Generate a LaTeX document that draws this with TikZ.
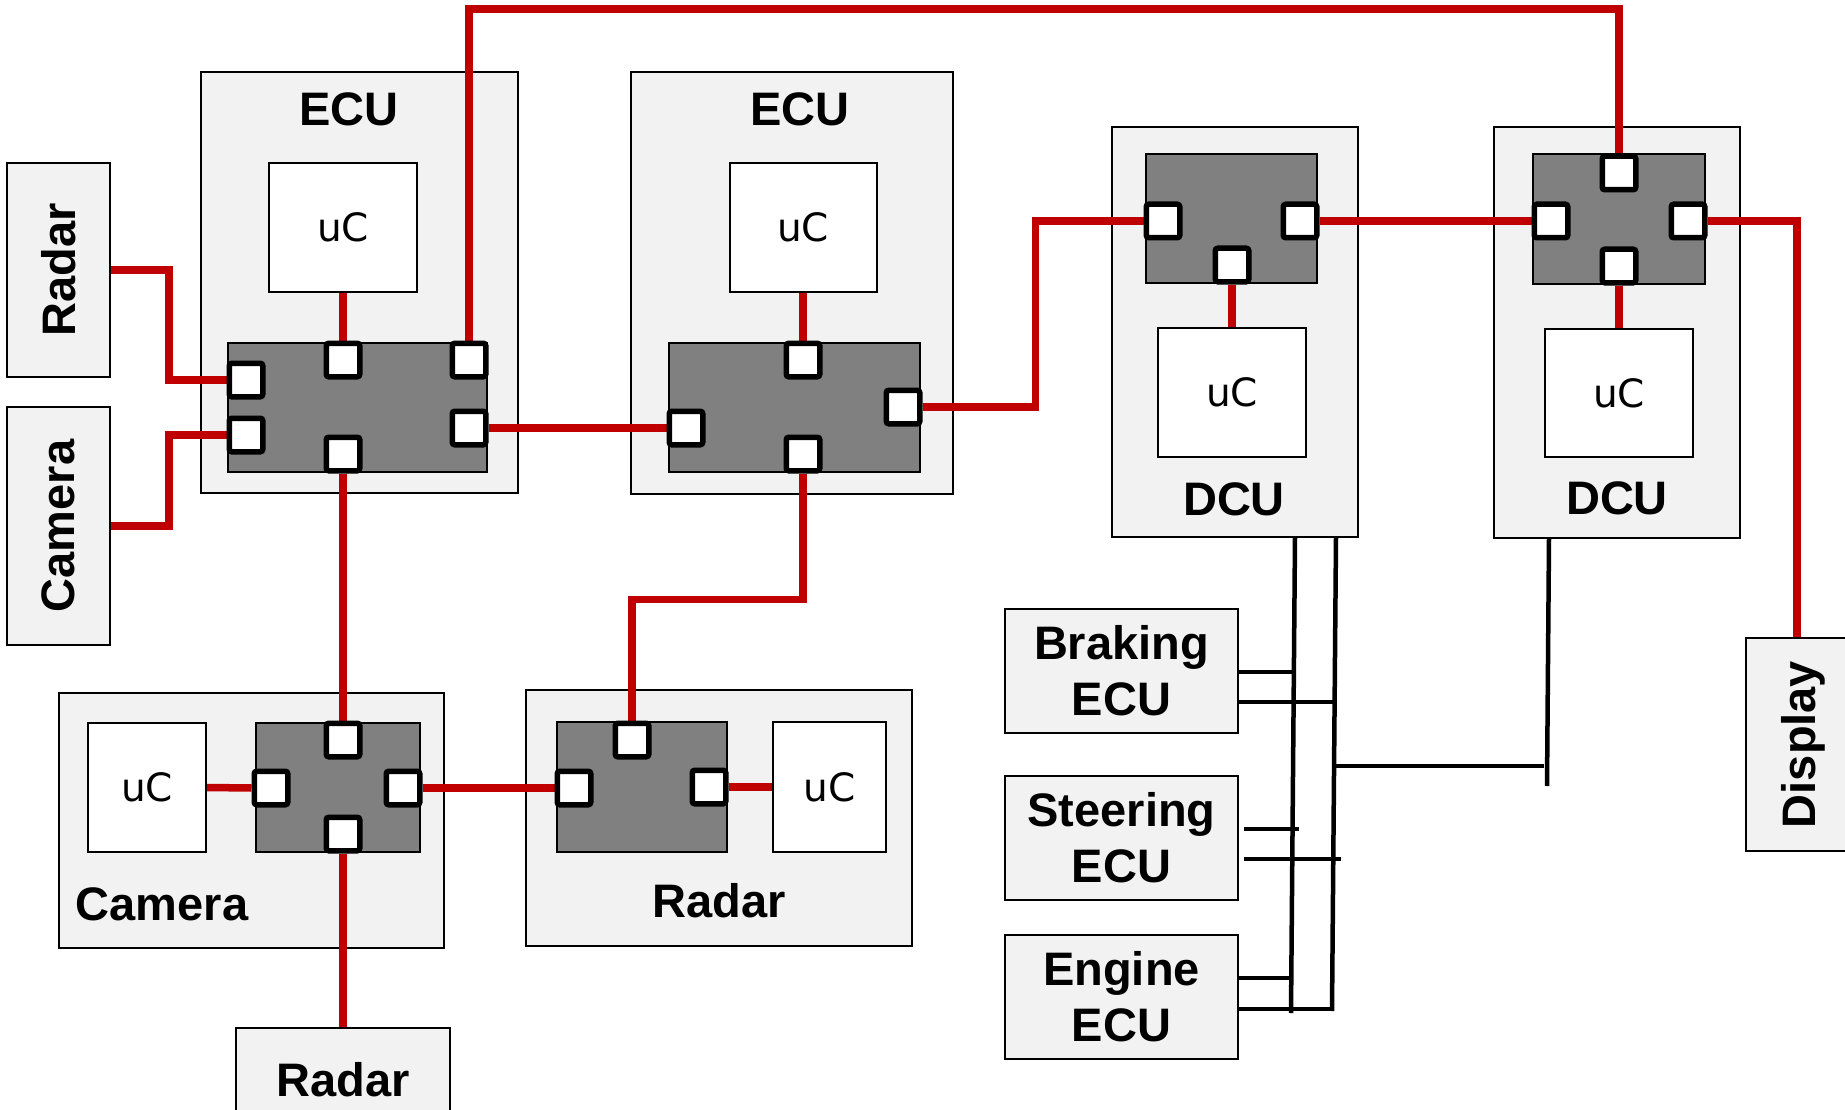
\documentclass[tikz,border=0pt]{standalone}
\usepackage{fontspec}
\setmainfont{Liberation Sans}
\newfontfamily\ucfont{DejaVu Sans}
\usetikzlibrary{positioning}
\definecolor{linkred}{RGB}{192,0,0}
\definecolor{unitgray}{RGB}{242,242,242}
\definecolor{switchgray}{RGB}{128,128,128}
\pgfdeclarelayer{front}
\pgfsetlayers{main,front}
\tikzset{
  unitbox/.style={draw=black, fill=unitgray, line width=2pt, rectangle, inner sep=0pt},
  switchbox/.style={draw=black, fill=switchgray, line width=2pt, rectangle, inner sep=0pt},
  ucbox/.style={draw=black, fill=white, line width=2pt, rectangle, inner sep=0pt, font=\ucfont\fontsize{39}{46}\selectfont},
  portsq/.style={draw=black, fill=white, line width=5.5pt, minimum size=33.5pt, inner sep=0pt, rounded corners=2.5pt},
  lbl/.style={font=\bfseries\fontsize{47}{56}\selectfont, inner sep=0pt, align=center},
  redlink/.style={draw=linkred, line width=7.5pt},
  buslink/.style={draw=black, line width=4.5pt},
}

\begin{document}
\begin{tikzpicture}[x=1pt, y=-1pt]
        \useasboundingbox (0,0) rectangle (1845,1110);
        \clip (0,0) rectangle (1845,1110);

        % Sensors on the left
        \node[unitbox, minimum width=103pt, minimum height=214pt] (radarL) at (58.5,270) {};
        \node[lbl, rotate=90] (radarLlbl) at (radarL) {Radar};
        \node[unitbox, minimum width=103pt, minimum height=238pt] (cameraL) at (58.5,526) {};
        \node[lbl, rotate=90] (cameraLlbl) at (cameraL) {Camera};

        % First ECU
        \node[unitbox, minimum width=317pt, minimum height=421pt] (ecuA) at (359.5,282.5) {};
        \node[lbl, anchor=base] (ecuAlbl) at (349,126) {ECU};
        \node[ucbox, minimum width=148pt, minimum height=129pt] (ecuAuc) at (343,227.5) {uC};
        \node[switchbox, minimum width=259pt, minimum height=129pt] (ecuAsw) at (357.5,407.5) {};

        % Second ECU
        \node[unitbox, minimum width=322pt, minimum height=422pt] (ecuB) at (792,283) {};
        \node[lbl, anchor=base] (ecuBlbl) at (800,126) {ECU};
        \node[ucbox, minimum width=147pt, minimum height=129pt] (ecuBuc) at (803,227.5) {uC};
        \node[switchbox, minimum width=251pt, minimum height=129pt] (ecuBsw) at (794.5,407.5) {};

        % First DCU
        \node[unitbox, minimum width=246pt, minimum height=410pt] (dcuA) at (1235,332) {};
        \node[lbl, anchor=base] (dcuAlbl) at (1234,515) {DCU};
        \node[switchbox, minimum width=171pt, minimum height=129pt] (dcuAsw) at (1231.5,218.5) {};
        \node[ucbox, minimum width=148pt, minimum height=129pt] (dcuAuc) at (1232,392.5) {uC};

        % Second DCU
        \node[unitbox, minimum width=246pt, minimum height=411pt] (dcuB) at (1617,332.5) {};
        \node[lbl, anchor=base] (dcuBlbl) at (1617,514) {DCU};
        \node[switchbox, minimum width=172pt, minimum height=130pt] (dcuBsw) at (1619,219) {};
        \node[ucbox, minimum width=148pt, minimum height=128pt] (dcuBuc) at (1619,393) {uC};

        % Display
        \node[unitbox, minimum width=114pt, minimum height=213pt] (disp) at (1803,744.5) {};
        \node[lbl, rotate=90] (displbl) at (disp) {Display};

        % Chassis ECUs
        \node[unitbox, minimum width=233pt, minimum height=124pt] (brk) at (1121.5,671) {};
        \node[lbl] (brklbl) at (brk) {Braking\\ECU};
        \node[unitbox, minimum width=233pt, minimum height=124pt] (steer) at (1121.5,838) {};
        \node[lbl] (steerlbl) at (steer) {Steering\\ECU};
        \node[unitbox, minimum width=233pt, minimum height=124pt] (eng) at (1121.5,997) {};
        \node[lbl] (englbl) at (eng) {Engine\\ECU};

        % Camera unit
        \node[unitbox, minimum width=385pt, minimum height=255pt] (camU) at (251.5,820.5) {};
        \node[lbl, anchor=base] (camUlbl) at (162,920) {Camera};
        \node[ucbox, minimum width=118pt, minimum height=129pt] (camuc) at (147,787.5) {uC};
        \node[switchbox, minimum width=164pt, minimum height=129pt] (camsw) at (338,787.5) {};

        % Radar unit
        \node[unitbox, minimum width=386pt, minimum height=256pt] (radU) at (719,818) {};
        \node[lbl, anchor=base] (radUlbl) at (719,917) {Radar};
        \node[switchbox, minimum width=170pt, minimum height=130pt] (radsw) at (642,787) {};
        \node[ucbox, minimum width=113pt, minimum height=130pt] (raduc) at (829.5,787) {uC};

        % Radar at the bottom
        \node[unitbox, minimum width=214pt, minimum height=104pt] (radarB) at (343,1080) {};
        \node[lbl] (radarBlbl) at (radarB) {Radar};

        % Switch ports
        \begin{pgfonlayer}{front}
            \node[portsq] (ecuAp1) at (246,380) {};
            \node[portsq] (ecuAp2) at (246,435) {};
            \node[portsq] (ecuAp3) at (343,360) {};
            \node[portsq] (ecuAp4) at (469,360) {};
            \node[portsq] (ecuAp5) at (469,428) {};
            \node[portsq] (ecuAp6) at (343,454) {};
            \node[portsq] (ecuBp1) at (686,428) {};
            \node[portsq] (ecuBp2) at (803,360) {};
            \node[portsq] (ecuBp3) at (903,407) {};
            \node[portsq] (ecuBp4) at (803,454) {};
            \node[portsq] (dcuAp1) at (1163,221) {};
            \node[portsq] (dcuAp2) at (1300,221) {};
            \node[portsq] (dcuAp3) at (1232,265) {};
            \node[portsq] (dcuBp1) at (1619,173) {};
            \node[portsq] (dcuBp2) at (1551,221) {};
            \node[portsq] (dcuBp3) at (1688,221) {};
            \node[portsq] (dcuBp4) at (1619,266) {};
            \node[portsq] (camp1) at (343,740) {};
            \node[portsq] (camp2) at (271,788) {};
            \node[portsq] (camp3) at (403,788) {};
            \node[portsq] (camp4) at (343,834) {};
            \node[portsq] (radp1) at (632,740) {};
            \node[portsq] (radp2) at (574,788) {};
            \node[portsq] (radp3) at (709,787) {};
        \end{pgfonlayer}

        % Ethernet links
        \coordinate (toprail) at (0,9);
        \draw[redlink] (radarL.east) -- ++(58,0) |- (ecuAp1.west);
        \draw[redlink] (cameraL.east) -- ++(58,0) |- (ecuAp2.west);
        \draw[redlink] (ecuAp3.north) -- (ecuAuc.south);
        \draw[redlink] (ecuAp4.north) -- (ecuAp4.north |- toprail) -| (dcuBp1.north);
        \draw[redlink] (ecuAp5.east) -- (ecuBp1.west);
        \draw[redlink] (ecuBp2.north) -- (ecuBuc.south);
        \draw[redlink] (ecuBp3.east) -- ++(113,0) |- (dcuAp1.west);
        \draw[redlink] (dcuAp2.east) -- (dcuBp2.west);
        \draw[redlink] (dcuAp3.south) -- (dcuAuc.north);
        \draw[redlink] (dcuBp4.south) -- (dcuBuc.north);
        \draw[redlink] (dcuBp3.east) -| ([xshift=-6pt]disp.north);
        \draw[redlink] (ecuAp6.south) -- (camp1.north);
        \draw[redlink] (ecuBp4.south) -- ++(0,126) -| (radp1.north);
        \draw[redlink] (camuc.east) -- (camp2.west);
        \draw[redlink] (camp3.east) -- (radp2.west);
        \draw[redlink] (radp3.east) -- (raduc.west);
        \draw[redlink] (camp4.south) -- (radarB.north);

        % CAN buses
        \coordinate (busAtop) at (1295,537);
        \coordinate (busAbot) at (1291,1013);
        \coordinate (busBtop) at (1336,537);
        \coordinate (busBbot) at (1332,1011);
        \coordinate (busCtop) at (1549,538);
        \coordinate (busCbot) at (1547,786);
        \coordinate (busjoin) at (1334,766);
        \coordinate (busCjoin) at (1544,766);
        \draw[buslink] (busAtop) -- (busAbot);
        \draw[buslink] (busBtop) -- (busBbot);
        \draw[buslink] (busCtop) -- (busCbot);
        \draw[buslink] (busjoin) -- (busCjoin);
        \draw[buslink] (brk.east |- 0,672) -- ++(55,0);
        \draw[buslink] (brk.east |- 0,702) -- ++(96,0);
        \draw[buslink] (steer.east |- 0,829) ++(5,0) -- ++(55,0);
        \draw[buslink] (steer.east |- 0,859) ++(5,0) -- ++(97,0);
        \draw[buslink] (eng.east |- 0,978) -- ++(53,0);
        \draw[buslink] (eng.east |- 0,1009) -- ++(94,0);
\end{tikzpicture}
\end{document}
